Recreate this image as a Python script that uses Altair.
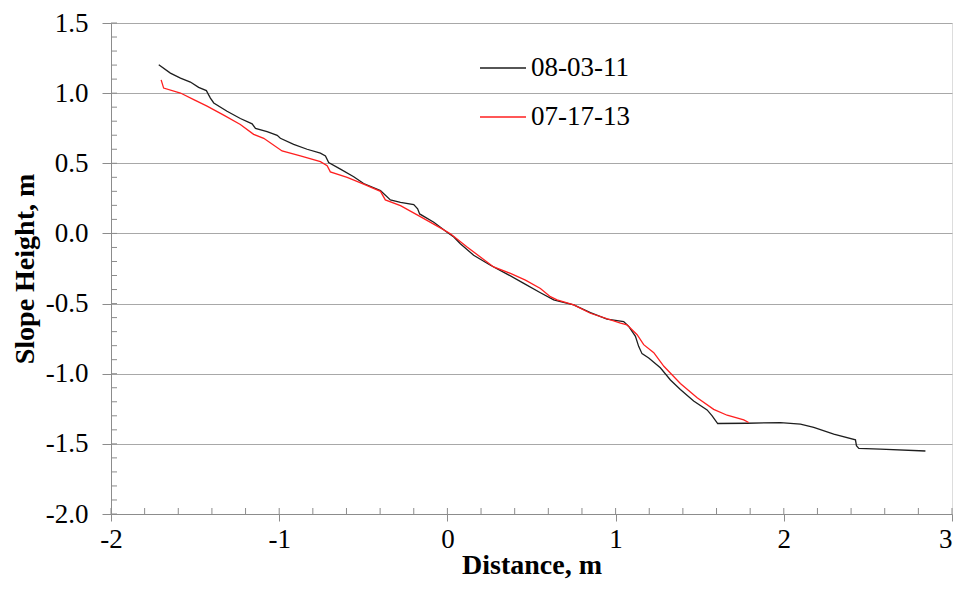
import altair as alt
import pandas as pd

# ---- data ----
black_x = [-1.716, -1.647, -1.587, -1.528, -1.479, -1.433, -1.409, -1.389, -1.310, -1.231,
           -1.161, -1.141, -1.072, -1.012, -0.993, -0.914, -0.834, -0.755, -0.725, -0.706,
           -0.636, -0.557, -0.498, -0.398, -0.339, -0.279, -0.200, -0.177, -0.165, -0.081,
           -0.002, 0.038, 0.077, 0.156, 0.256, 0.355, 0.454, 0.553, 0.632, 0.672,
           0.751, 0.850, 0.949, 1.048, 1.078, 1.118, 1.137, 1.157, 1.197, 1.266,
           1.326, 1.385, 1.464, 1.544, 1.574, 1.607, 1.782, 1.980, 2.099, 2.178,
           2.297, 2.426, 2.432, 2.446, 2.574, 2.842]
black_y = [1.202, 1.143, 1.107, 1.079, 1.041, 1.018, 0.965, 0.930, 0.871, 0.819,
           0.781, 0.749, 0.725, 0.699, 0.678, 0.635, 0.600, 0.572, 0.552, 0.505,
           0.458, 0.404, 0.356, 0.305, 0.239, 0.222, 0.205, 0.175, 0.139, 0.080,
           0.009, -0.026, -0.073, -0.156, -0.227, -0.290, -0.356, -0.423, -0.474, -0.486,
           -0.510, -0.564, -0.611, -0.628, -0.663, -0.734, -0.805, -0.857, -0.888, -0.958,
           -1.045, -1.112, -1.195, -1.258, -1.301, -1.355, -1.353, -1.348, -1.360, -1.383,
           -1.431, -1.471, -1.513, -1.532, -1.537, -1.551]

red_x = [-1.702, -1.687, -1.587, -1.508, -1.429, -1.330, -1.231, -1.152, -1.092, -0.983,
         -0.874, -0.755, -0.715, -0.696, -0.596, -0.498, -0.398, -0.369, -0.279, -0.161,
         -0.042, 0.018, 0.117, 0.196, 0.275, 0.375, 0.464, 0.553, 0.612, 0.652,
         0.751, 0.850, 1.029, 1.068, 1.128, 1.167, 1.227, 1.287, 1.385, 1.485,
         1.583, 1.663, 1.762, 1.791]
red_y = [1.095, 1.036, 1.001, 0.954, 0.907, 0.843, 0.777, 0.706, 0.678, 0.588,
         0.552, 0.512, 0.482, 0.439, 0.399, 0.352, 0.300, 0.239, 0.198, 0.120,
         0.040, -0.002, -0.097, -0.168, -0.239, -0.285, -0.333, -0.392, -0.451, -0.474,
         -0.510, -0.569, -0.640, -0.652, -0.722, -0.793, -0.850, -0.947, -1.070, -1.171,
         -1.254, -1.296, -1.329, -1.348]

series_names = ["08-03-11", "07-17-13"]
series_colors = ["#1e1e1e", "#ff1f1f"]

x_ticks = [-2, -1, 0, 1, 2, 3]
y_ticks = [-2.0, -1.5, -1.0, -0.5, 0.0, 0.5, 1.0, 1.5]
x_minor = [-2.0, -1.8, -1.6, -1.4, -1.2, -1.0, -0.8, -0.6, -0.4, -0.2, 0.0, 0.2, 0.4,
           0.6, 0.8, 1.0, 1.2, 1.4, 1.6, 1.8, 2.0, 2.2, 2.4, 2.6, 2.8, 3.0]
y_minor = [-2.0, -1.9, -1.8, -1.7, -1.6, -1.5, -1.4, -1.3, -1.2, -1.1, -1.0, -0.9, -0.8,
           -0.7, -0.6, -0.5, -0.4, -0.3, -0.2, -0.1, 0.0, 0.1, 0.2, 0.3, 0.4, 0.5, 0.6,
           0.7, 0.8, 0.9, 1.0, 1.1, 1.2, 1.3, 1.4, 1.5]

rows = []
for i, (a, b) in enumerate(zip(black_x, black_y)):
    rows.append({"x": a, "y": b, "series": series_names[0], "i": i})
for i, (a, b) in enumerate(zip(red_x, red_y)):
    rows.append({"x": a, "y": b, "series": series_names[1], "i": i})
df = pd.DataFrame(rows)

FONT = "Liberation Serif"
GRAY = "#8c8c8c"
W, H = 841, 491

x_scale = alt.Scale(domain=[-2, 3], nice=False, zero=False)
y_scale = alt.Scale(domain=[-2.0, 1.5], nice=False, zero=False)

x_axis = alt.Axis(values=x_ticks, labelExpr="toString(datum.value)",
                  labelAlign={"condition": {"test": "datum.value == 3", "value": "right"},
                              "value": "center"},
                  title="Distance, m", grid=False,
                  tickSize=7, tickColor=GRAY, domainColor=GRAY, labelPadding=5,
                  labelFont=FONT, labelFontSize=27, labelColor="black",
                  titleFont=FONT, titleFontSize=28, titleFontWeight="bold",
                  titleColor="black", titlePadding=-1)
y_axis = alt.Axis(values=y_ticks,
                  labelExpr="datum.value % 1 == 0 ? toString(datum.value) + '.0' : toString(datum.value)",
                  title="Slope Height, m", grid=True,
                  gridColor="#a8a8a8", gridWidth=1.2,
                  tickSize=9, tickColor=GRAY, domainColor=GRAY, labelPadding=14,
                  labelFont=FONT, labelFontSize=27, labelColor="black",
                  titleFont=FONT, titleFontSize=28, titleFontWeight="bold",
                  titleColor="black", titlePadding=6)

lines = alt.Chart(df).mark_line(strokeWidth=1.3).encode(
    x=alt.X("x:Q", scale=x_scale, axis=x_axis),
    y=alt.Y("y:Q", scale=y_scale, axis=y_axis),
    color=alt.Color("series:N",
                    scale=alt.Scale(domain=series_names, range=series_colors),
                    legend=alt.Legend(title=None, orient="none", legendX=368, legendY=21,
                                      symbolType="stroke", symbolSize=2116,
                                      symbolStrokeWidth=1.5, labelFont=FONT,
                                      labelFontSize=27, labelColor="black",
                                      rowPadding=12, labelOffset=4)),
    order=alt.Order("i:Q"),
)

xm = alt.Chart(pd.DataFrame({"x": x_minor})).mark_rule(color=GRAY, strokeWidth=1).encode(
    x=alt.X("x:Q", scale=x_scale, axis=x_axis),
    y=alt.value(H - 6),
    y2=alt.value(H),
)
ym = alt.Chart(pd.DataFrame({"y": y_minor})).mark_rule(color=GRAY, strokeWidth=1).encode(
    y=alt.Y("y:Q", scale=y_scale, axis=y_axis),
    x=alt.value(0),
    x2=alt.value(6),
)

chart = alt.layer(xm, ym, lines).properties(
    width=W, height=H,
    autosize=alt.AutoSizeParams(type="none"),
    padding={"left": 103, "top": 15, "right": 1, "bottom": 67},
).configure_view(stroke=None).configure(background="white").configure_legend(
    labelFont=FONT
)

chart.save("out.html", embed_options={"renderer": "svg", "actions": False})
